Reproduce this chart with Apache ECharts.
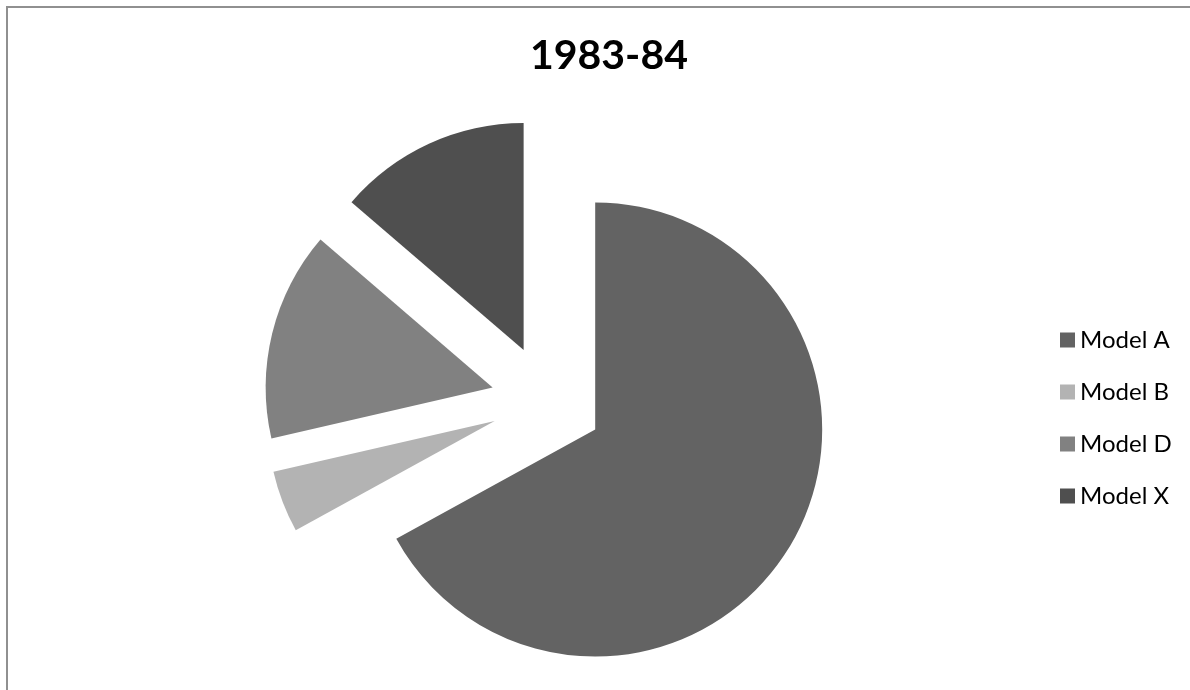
<!DOCTYPE html>
<html>
<head>
<meta charset="utf-8">
<script src="https://cdn.jsdelivr.net/npm/echarts@6/dist/echarts.min.js"></script>
<style>
  html, body { margin: 0; padding: 0; background: #fff; }
  #chart { width: 1190px; height: 690px; }
</style>
</head>
<body>
<div id="chart"></div>
<script>
// slices, clockwise from 12 o'clock
const models = ['Model A', 'Model B', 'Model D', 'Model X'];
const shares = [67.0, 4.4, 14.9, 13.7];
const colours = ['#636363', '#b3b3b3', '#818181', '#4f4f4f'];

const chart = echarts.init(document.getElementById('chart'));

const pieData = models.map(function (name, i) {
    return { name: name, value: shares[i], selected: true, itemStyle: { color: colours[i] } };
});

chart.setOption({
    animation: false,
    backgroundColor: '#fff',
    title: {
        text: '1983-84',
        left: 525,
        top: 30,
        textStyle: { fontFamily: 'Lato', fontWeight: 'bold', fontSize: 41, color: '#000' }
    },
    legend: {
        orient: 'vertical',
        left: 1055,
        top: 323,
        icon: 'rect',
        itemWidth: 15,
        itemHeight: 15,
        itemGap: 28,
        selectedMode: false,
        textStyle: { fontFamily: 'Lato', fontSize: 24, lineHeight: 24, color: '#000' },
        data: models
    },
    graphic: [{
        type: 'rect',
        shape: { x: 7, y: 7, width: 1300, height: 800 },
        style: { fill: 'none', stroke: '#909090', lineWidth: 2 },
        silent: true
    }],
    series: [{
        type: 'pie',
        center: [547, 401],
        radius: 227,
        startAngle: 90,
        clockwise: true,
        selectedMode: 'multiple',
        selectedOffset: 56,
        label: { show: false },
        labelLine: { show: false },
        emphasis: { scale: false },
        itemStyle: { borderWidth: 0 },
        data: pieData
    }]
});
</script>
</body>
</html>
